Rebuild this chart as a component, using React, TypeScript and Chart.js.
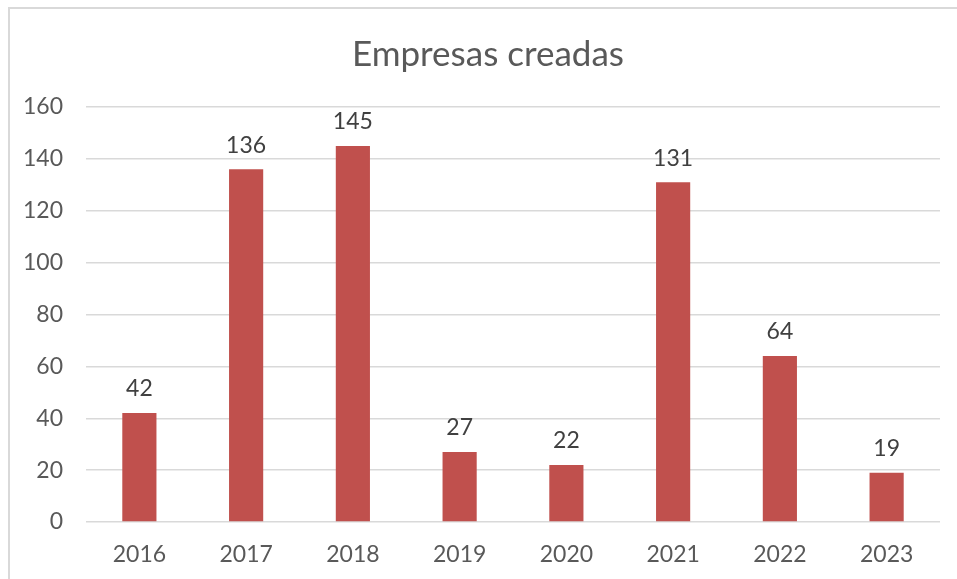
import React, { useEffect, useRef } from "react";
import { Chart, registerables } from "chart.js";

Chart.register(...registerables);

const TITLE = "Empresas creadas";
const YEARS = ["2016", "2017", "2018", "2019", "2020", "2021", "2022", "2023"];
const EMPRESAS = [42, 136, 145, 27, 22, 131, 64, 19];
const Y_MIN = 0;
const Y_MAX = 160;
const Y_STEP = 20;

const FONT = "Lato, 'Open Sans', sans-serif";
const TEXT = "#595959";
const BAR = "#C0504D";
const GRID = "#d9d9d9";

const dataLabels = {
  id: "dataLabels",
  afterDatasetsDraw(chart: any) {
    const ctx = chart.ctx;
    ctx.save();
    ctx.fillStyle = "#404040";
    ctx.font = `23px ${FONT}`;
    ctx.textAlign = "center";
    ctx.textBaseline = "middle";
    chart.data.datasets.forEach((ds: any, i: number) => {
      const meta = chart.getDatasetMeta(i);
      meta.data.forEach((el: any, j: number) => {
        ctx.fillText(String(ds.data[j]), el.x, el.y - 24);
      });
    });
    ctx.restore();
  },
};

export default function App() {
  const ref = useRef<HTMLCanvasElement>(null);
  useEffect(() => {
    document.body.style.margin = "0";
    const chart = new Chart(ref.current!, {
      type: "bar",
      data: {
        labels: YEARS,
        datasets: [
          {
            label: TITLE,
            data: EMPRESAS,
            backgroundColor: BAR,
            barPercentage: 0.32,
            categoryPercentage: 1,
          },
        ],
      },
      options: {
        animation: false,
        responsive: true,
        maintainAspectRatio: false,
        layout: { padding: { left: 10, right: 17, top: 107, bottom: 0 } },
        plugins: {
          legend: { display: false },
          tooltip: { enabled: false },
          title: { display: false },
        },
        scales: {
          x: {
            grid: { display: false, drawTicks: false },
            border: { display: false },
            ticks: {
              color: TEXT,
              font: { family: FONT, size: 23 },
              padding: 19,
            },
            afterFit(scale: any) {
              scale.height = 57;
            },
          },
          y: {
            min: Y_MIN,
            max: Y_MAX,
            grid: { color: GRID, lineWidth: 1.5, drawTicks: false },
            border: { display: false },
            ticks: {
              stepSize: Y_STEP,
              color: TEXT,
              font: { family: FONT, size: 23 },
              padding: 23,
            },
            afterFit(scale: any) {
              scale.width = 76;
            },
          },
        },
      },
      plugins: [dataLabels],
    });
    return () => chart.destroy();
  }, []);
  return (
    <div style={{ position: "relative", width: 957, height: 579, overflow: "hidden" }}>
      <div
        style={{
          position: "absolute",
          left: 8,
          top: 7,
          right: 0,
          bottom: 0,
          borderTop: `2px solid ${GRID}`,
          borderLeft: `2px solid ${GRID}`,
          pointerEvents: "none",
        }}
      />
      <div
        style={{
          position: "absolute",
          left: 9,
          width: 958,
          top: 31,
          textAlign: "center",
          fontFamily: FONT,
          fontSize: 35,
          lineHeight: "42px",
          color: TEXT,
          whiteSpace: "nowrap",
        }}
      >
        {TITLE}
      </div>
      <canvas ref={ref} />
    </div>
  );
}
